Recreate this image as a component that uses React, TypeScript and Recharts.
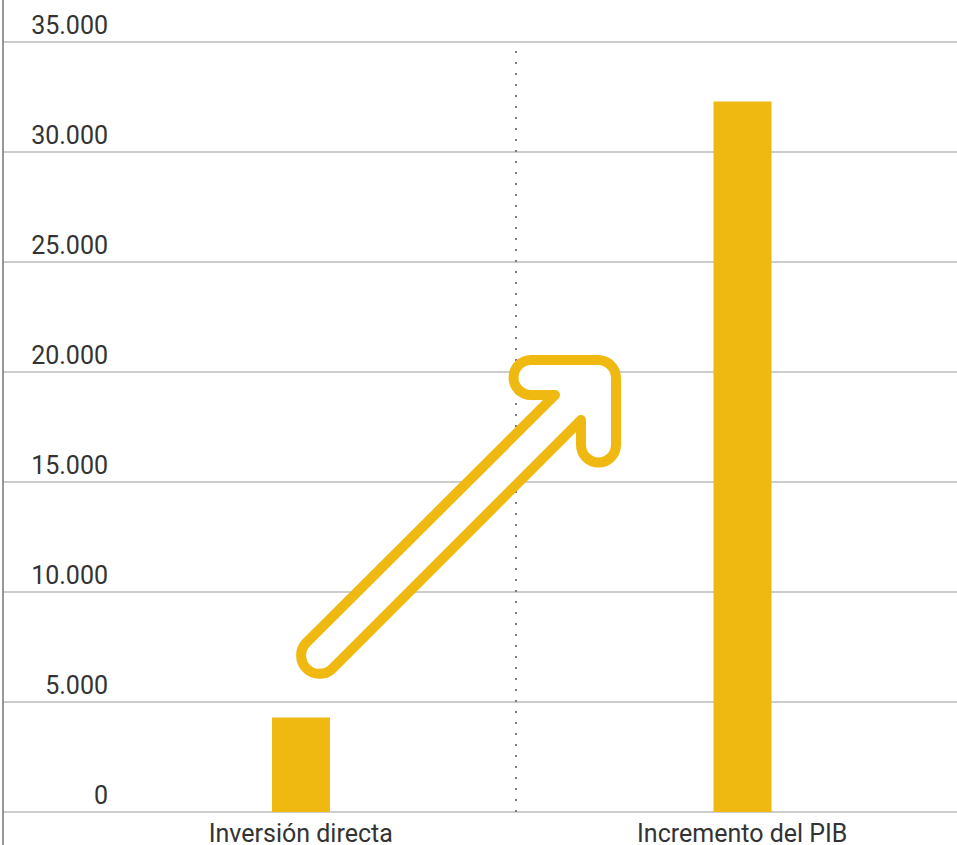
import {Bar, BarChart, CartesianGrid, ReferenceLine, XAxis, YAxis} from 'recharts'

const categories = ['Inversión directa', 'Incremento del PIB']
const values = [4300, 32300]
const yTicks = [0, 5000, 10000, 15000, 20000, 25000, 30000, 35000]

const data = categories.map((name, i) => ({name, value: values[i]}))

const fmt = (v: number) => String(v).replace(/\B(?=(\d{3})+(?!\d))/g, '.')

const YTick = (props: any) => {
    const {y, payload} = props
    return (
        <text x={108} y={y - 8} textAnchor='end' fill='#333' fontSize={25} fontFamily='Roboto'>
            {fmt(payload.value)}
        </text>
    )
}

const XTick = (props: any) => {
    const {x, y, payload} = props
    return (
        <text x={x} y={y + 30} textAnchor='middle' fill='#333' fontSize={25} fontFamily='Roboto'>
            {payload.value}
        </text>
    )
}

// divider sits a bit left of the band boundary in the original
const Divider = (p: any) => (
    <line x1={p.x1 - 5.5} y1={p.y1} x2={p.x2 - 5.5} y2={p.y2} stroke='#7a7a7a' strokeWidth={2} strokeDasharray='2 9' />
)

const App = () => {
    return (
        <div style={{position: 'absolute', left: 0, top: 0, width: 957, height: 845, overflow: 'hidden', background: '#fff'}}>
            <BarChart width={963} height={845} data={data} margin={{top: 42, right: 0, bottom: 0, left: 0}}>
                <CartesianGrid vertical={false} stroke='#999' />
                <XAxis dataKey='name' height={33} axisLine={false} tickLine={false} tickSize={0} tickMargin={0}
                    padding={{left: 77, right: 0}} tick={<XTick />} interval={0} />
                <YAxis width={3} domain={[0, 35000]} ticks={yTicks} interval={0} axisLine={false} tickLine={false} tick={<YTick />} />
                <ReferenceLine x='Incremento del PIB' position='start' shape={Divider} />
                <Bar dataKey='value' fill='#EFB911' barSize={58} isAnimationActive={false} />
            </BarChart>
            {/* decorative arrow + full-height left rule */}
            <svg width={957} height={845} style={{position: 'absolute', left: 0, top: 0, pointerEvents: 'none'}}>
                <line x1={3} y1={0} x2={3} y2={845} stroke='#777' strokeWidth={1.5} />
                <path
                    d='M 306 643 L 555 395 L 531 395 A 17.5 17.5 0 0 1 531 360 L 598 360 A 18 18 0 0 1 616 378 L 616 445 A 17.5 17.5 0 0 1 581 445 L 581 420 L 332 669 A 18.4 18.4 0 0 1 306 643 Z'
                    fill='#fff' stroke='#EFB911' strokeWidth={10} strokeLinejoin='round' />
            </svg>
        </div>
    )
}

export default App
